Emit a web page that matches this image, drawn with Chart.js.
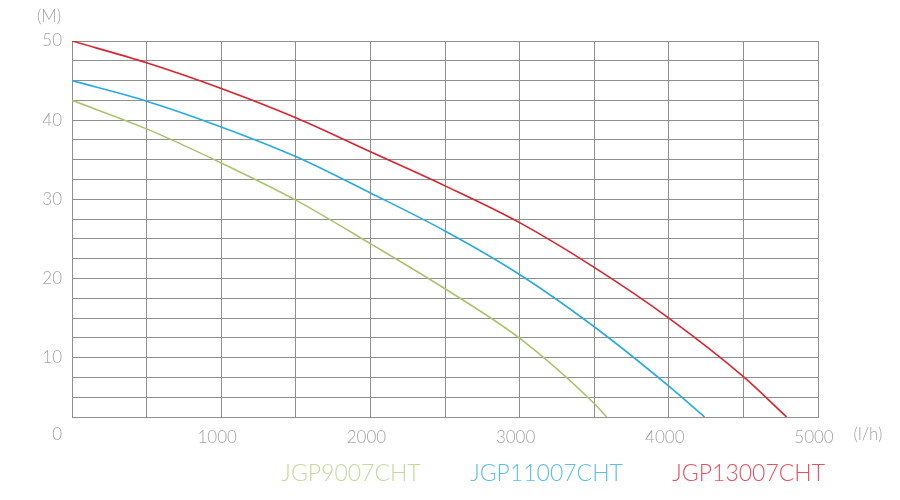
<!DOCTYPE html>
<html>
<head>
<meta charset="utf-8">
<script src="https://cdn.jsdelivr.net/npm/chart.js@4/dist/chart.umd.min.js"></script>
<style>
  html, body { margin: 0; padding: 0; background: #ffffff; }
  #wrap { width: 900px; height: 500px; position: relative; }
</style>
</head>
<body>
<div id="wrap"><canvas id="c" width="900" height="500"></canvas></div>
<script>
// ---- data ----
const seriesNames = ['JGP9007CHT', 'JGP11007CHT', 'JGP13007CHT'];

const flow9007  = [0, 500, 1000, 1500, 2000, 2500, 3000, 3500, 3584];
const head9007  = [42.5, 38.9, 34.6, 29.9, 24.4, 18.7, 12.45, 4.2, 2.5];

const flow11007 = [0, 500, 1000, 1500, 2000, 2500, 3000, 3500, 4000, 4240];
const head11007 = [45.0, 42.4, 39.15, 35.4, 30.8, 26.0, 20.5, 13.9, 6.4, 2.5];

const flow13007 = [0, 500, 1000, 1500, 2000, 2500, 3000, 3500, 4000, 4500, 4790];
const head13007 = [50.0, 47.25, 44.0, 40.3, 36.0, 31.7, 27.05, 21.4, 15.0, 7.6, 2.5];

const xTickLabels = [1000, 2000, 3000, 4000, 5000];
const yTickLabels = [10, 20, 30, 40, 50];
const xUnit = '(l/h)';
const yUnit = '(M)';
const originLabel = '0';

// ---- styles ----
const lineColors = ['#a9c46c', '#27aae1', '#d9232d'];
const legendColors = ['#c6d99c', '#5bbfec', '#ec4f5d'];
const gridColor = '#8f8f8f';
const tickColor = '#a3a3a3';
const FONT = 'Lato, "Open Sans", "DejaVu Sans", sans-serif';
const LEGEND_PAD = 15;

function toPoints(xs, ys) { return xs.map((x, i) => ({ x: x, y: ys[i] })); }

const datasets = [
  { label: seriesNames[0], data: toPoints(flow9007, head9007) },
  { label: seriesNames[1], data: toPoints(flow11007, head11007) },
  { label: seriesNames[2], data: toPoints(flow13007, head13007) }
].map((d, i) => Object.assign(d, {
  borderColor: lineColors[i],
  backgroundColor: lineColors[i],
  borderWidth: 1.6,
  pointRadius: 0,
  fill: false,
  cubicInterpolationMode: 'monotone'
}));

const unitPlugin = {
  id: 'units',
  afterDraw(chart) {
    const ctx = chart.ctx;
    const area = chart.chartArea;
    ctx.save();
    ctx.fillStyle = tickColor;
    ctx.font = '300 17px ' + FONT;
    ctx.textBaseline = 'middle';
    ctx.textAlign = 'center';
    ctx.fillText(yUnit, 49, 17);
    ctx.fillText(xUnit, 868, 435);
    ctx.textAlign = 'right';
    ctx.fillText(originLabel, area.left - 10, 435);
    ctx.restore();
  }
};

new Chart(document.getElementById('c'), {
  type: 'line',
  data: { datasets: datasets },
  plugins: [unitPlugin],
  options: {
    responsive: false,
    animation: false,
    layout: { padding: { left: 0, top: 41, right: 60, bottom: 5 } },
    plugins: {
      tooltip: { enabled: false },
      legend: {
        position: 'bottom',
        align: 'end',
        labels: {
          boxWidth: 23,
          boxHeight: 0,
          padding: LEGEND_PAD,
          font: { family: FONT, size: 23, weight: '300' },
          generateLabels(chart) {
            return chart.data.datasets.map((ds, i) => ({
              text: ds.label,
              fontColor: legendColors[i],
              fillStyle: 'rgba(0,0,0,0)',
              strokeStyle: 'rgba(0,0,0,0)',
              lineWidth: 0,
              hidden: false,
              datasetIndex: i
            }));
          }
        }
      }
    },
    scales: {
      x: {
        type: 'linear',
        min: 0,
        max: 5000,
        afterFit(s) { s.height = 30; s.paddingRight = 82; },
        grid: { color: gridColor, lineWidth: 1, drawTicks: false },
        border: { color: gridColor, width: 1 },
        ticks: {
          stepSize: 500,
          autoSkip: false,
          maxRotation: 0,
          padding: 10,
          labelOffset: -4,
          color: tickColor,
          font: { family: FONT, size: 17, weight: '300' },
          callback(v) { return xTickLabels.includes(v) ? String(v) : ''; }
        }
      },
      y: {
        type: 'linear',
        min: 2.5,
        max: 50,
        afterFit(s) { s.width = 72; },
        grid: { color: gridColor, lineWidth: 1, drawTicks: false },
        border: { color: gridColor, width: 1 },
        ticks: {
          stepSize: 2.5,
          autoSkip: false,
          padding: 10,
          color: tickColor,
          font: { family: FONT, size: 17, weight: '300' },
          callback(v) { return yTickLabels.includes(v) ? String(v) : ''; }
        }
      }
    }
  }
});
</script>
</body>
</html>
